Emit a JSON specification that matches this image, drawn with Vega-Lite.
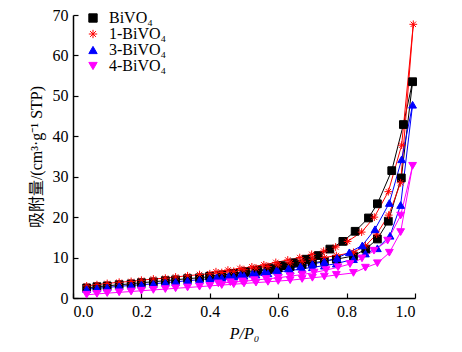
{
 "$schema": "https://vega.github.io/schema/vega-lite/v6.json",
 "width": 342,
 "height": 283,
 "autosize": {"type": "none"},
 "padding": {"left": 73, "top": 15, "right": 47, "bottom": 54},
 "background": "white",
 "config": {
  "view": {"stroke": null},
  "font": "'Liberation Serif', 'Times New Roman', serif",
  "axis": {
   "domainColor": "black", "domainWidth": 1.5, "tickColor": "black", "tickSize": -5, "tickWidth": 1.2,
   "labelFont": "'Liberation Serif', 'Times New Roman', serif", "labelFontSize": 16, "labelColor": "black", "labelPadding": 10,
   "titleFont": "'Liberation Serif', 'Noto Sans CJK SC', serif", "titleFontSize": 16, "titleColor": "black", "titleFontWeight": "normal",
   "grid": false
  },
  "legend": {"labelFont": "'Liberation Serif', 'Times New Roman', serif", "orient": "none", "legendX": 12, "legendY": -5, "padding": 0, "title": null, "symbolSize": 70, "labelFontSize": 16, "labelColor": "black", "labelOffset": 8, "rowPadding": 0, "symbolStrokeWidth": 1}
 },
 "data": {"values": [
  {"s":"BiVO₄","p":0.04,"v":2.5},{"s":"BiVO₄","p":0.07,"v":2.8},{"s":"BiVO₄","p":0.10,"v":3.0},{"s":"BiVO₄","p":0.135,"v":3.3},{"s":"BiVO₄","p":0.17,"v":3.5},{"s":"BiVO₄","p":0.20,"v":3.8},{"s":"BiVO₄","p":0.235,"v":4.0},{"s":"BiVO₄","p":0.27,"v":4.3},{"s":"BiVO₄","p":0.30,"v":4.5},{"s":"BiVO₄","p":0.335,"v":4.8},{"s":"BiVO₄","p":0.37,"v":5.0},{"s":"BiVO₄","p":0.40,"v":5.3},{"s":"BiVO₄","p":0.435,"v":5.6},{"s":"BiVO₄","p":0.47,"v":5.9},{"s":"BiVO₄","p":0.50,"v":6.2},{"s":"BiVO₄","p":0.535,"v":6.6},{"s":"BiVO₄","p":0.57,"v":7.0},{"s":"BiVO₄","p":0.60,"v":7.4},{"s":"BiVO₄","p":0.635,"v":7.8},{"s":"BiVO₄","p":0.67,"v":8.3},{"s":"BiVO₄","p":0.70,"v":8.7},{"s":"BiVO₄","p":0.735,"v":9.1},{"s":"BiVO₄","p":0.77,"v":9.6},{"s":"BiVO₄","p":0.82,"v":10.4},{"s":"BiVO₄","p":0.856,"v":12.1},{"s":"BiVO₄","p":0.89,"v":14.6},{"s":"BiVO₄","p":0.922,"v":19.0},{"s":"BiVO₄","p":0.96,"v":29.7},{"s":"BiVO₄","p":0.993,"v":53.5},
  {"s":"BiVO₄","p":0.966,"v":42.9},{"s":"BiVO₄","p":0.932,"v":31.5},{"s":"BiVO₄","p":0.89,"v":23.3},{"s":"BiVO₄","p":0.864,"v":19.8},{"s":"BiVO₄","p":0.825,"v":16.5},{"s":"BiVO₄","p":0.789,"v":14.0},{"s":"BiVO₄","p":0.751,"v":12.1},{"s":"BiVO₄","p":0.717,"v":10.5},{"s":"BiVO₄","p":0.682,"v":9.6},{"s":"BiVO₄","p":0.646,"v":8.7},{"s":"BiVO₄","p":0.61,"v":8.0},{"s":"BiVO₄","p":0.575,"v":7.4},{"s":"BiVO₄","p":0.54,"v":6.9},{"s":"BiVO₄","p":0.505,"v":6.5},{"s":"BiVO₄","p":0.47,"v":6.1},{"s":"BiVO₄","p":0.435,"v":5.7},{"s":"BiVO₄","p":0.40,"v":5.4},
  {"s":"1-BiVO₄","p":0.04,"v":3.0},{"s":"1-BiVO₄","p":0.07,"v":3.3},{"s":"1-BiVO₄","p":0.10,"v":3.6},{"s":"1-BiVO₄","p":0.135,"v":3.9},{"s":"1-BiVO₄","p":0.17,"v":4.1},{"s":"1-BiVO₄","p":0.20,"v":4.4},{"s":"1-BiVO₄","p":0.235,"v":4.7},{"s":"1-BiVO₄","p":0.27,"v":4.9},{"s":"1-BiVO₄","p":0.30,"v":5.2},{"s":"1-BiVO₄","p":0.335,"v":5.5},{"s":"1-BiVO₄","p":0.37,"v":5.8},{"s":"1-BiVO₄","p":0.40,"v":6.0},{"s":"1-BiVO₄","p":0.435,"v":6.3},{"s":"1-BiVO₄","p":0.47,"v":6.6},{"s":"1-BiVO₄","p":0.50,"v":7.0},{"s":"1-BiVO₄","p":0.535,"v":7.4},{"s":"1-BiVO₄","p":0.57,"v":7.8},{"s":"1-BiVO₄","p":0.60,"v":8.2},{"s":"1-BiVO₄","p":0.635,"v":8.7},{"s":"1-BiVO₄","p":0.67,"v":9.1},{"s":"1-BiVO₄","p":0.70,"v":9.6},{"s":"1-BiVO₄","p":0.735,"v":10.0},{"s":"1-BiVO₄","p":0.77,"v":10.5},{"s":"1-BiVO₄","p":0.82,"v":11.3},{"s":"1-BiVO₄","p":0.855,"v":12.9},{"s":"1-BiVO₄","p":0.888,"v":15.8},{"s":"1-BiVO₄","p":0.923,"v":20.5},{"s":"1-BiVO₄","p":0.958,"v":28.5},{"s":"1-BiVO₄","p":0.995,"v":67.7},
  {"s":"1-BiVO₄","p":0.961,"v":37.8},{"s":"1-BiVO₄","p":0.922,"v":26.3},{"s":"1-BiVO₄","p":0.881,"v":20.0},{"s":"1-BiVO₄","p":0.844,"v":16.3},{"s":"1-BiVO₄","p":0.803,"v":14.0},{"s":"1-BiVO₄","p":0.768,"v":12.6},{"s":"1-BiVO₄","p":0.733,"v":11.6},{"s":"1-BiVO₄","p":0.698,"v":10.8},{"s":"1-BiVO₄","p":0.663,"v":10.0},{"s":"1-BiVO₄","p":0.628,"v":9.4},{"s":"1-BiVO₄","p":0.593,"v":8.8},{"s":"1-BiVO₄","p":0.558,"v":8.2},{"s":"1-BiVO₄","p":0.523,"v":7.7},{"s":"1-BiVO₄","p":0.488,"v":7.3},{"s":"1-BiVO₄","p":0.453,"v":6.9},{"s":"1-BiVO₄","p":0.418,"v":6.5},
  {"s":"3-BiVO₄","p":0.04,"v":2.2},{"s":"3-BiVO₄","p":0.07,"v":2.4},{"s":"3-BiVO₄","p":0.10,"v":2.6},{"s":"3-BiVO₄","p":0.135,"v":2.9},{"s":"3-BiVO₄","p":0.17,"v":3.1},{"s":"3-BiVO₄","p":0.20,"v":3.3},{"s":"3-BiVO₄","p":0.235,"v":3.5},{"s":"3-BiVO₄","p":0.27,"v":3.8},{"s":"3-BiVO₄","p":0.30,"v":4.0},{"s":"3-BiVO₄","p":0.335,"v":4.3},{"s":"3-BiVO₄","p":0.37,"v":4.5},{"s":"3-BiVO₄","p":0.40,"v":4.8},{"s":"3-BiVO₄","p":0.435,"v":5.0},{"s":"3-BiVO₄","p":0.47,"v":5.3},{"s":"3-BiVO₄","p":0.50,"v":5.5},{"s":"3-BiVO₄","p":0.535,"v":5.8},{"s":"3-BiVO₄","p":0.57,"v":6.1},{"s":"3-BiVO₄","p":0.60,"v":6.5},{"s":"3-BiVO₄","p":0.635,"v":6.8},{"s":"3-BiVO₄","p":0.67,"v":7.2},{"s":"3-BiVO₄","p":0.70,"v":7.6},{"s":"3-BiVO₄","p":0.735,"v":8.0},{"s":"3-BiVO₄","p":0.77,"v":8.5},{"s":"3-BiVO₄","p":0.82,"v":9.6},{"s":"3-BiVO₄","p":0.855,"v":11.0},{"s":"3-BiVO₄","p":0.89,"v":12.3},{"s":"3-BiVO₄","p":0.927,"v":15.4},{"s":"3-BiVO₄","p":0.958,"v":23.0},{"s":"3-BiVO₄","p":0.993,"v":47.8},
  {"s":"3-BiVO₄","p":0.961,"v":34.3},{"s":"3-BiVO₄","p":0.925,"v":23.5},{"s":"3-BiVO₄","p":0.883,"v":17.0},{"s":"3-BiVO₄","p":0.846,"v":13.0},{"s":"3-BiVO₄","p":0.808,"v":11.3},{"s":"3-BiVO₄","p":0.772,"v":9.9},{"s":"3-BiVO₄","p":0.735,"v":9.0},{"s":"3-BiVO₄","p":0.70,"v":8.4},{"s":"3-BiVO₄","p":0.665,"v":7.8},{"s":"3-BiVO₄","p":0.63,"v":7.3},{"s":"3-BiVO₄","p":0.595,"v":6.8},{"s":"3-BiVO₄","p":0.56,"v":6.4},{"s":"3-BiVO₄","p":0.525,"v":6.0},{"s":"3-BiVO₄","p":0.49,"v":5.7},{"s":"3-BiVO₄","p":0.455,"v":5.4},{"s":"3-BiVO₄","p":0.42,"v":5.1},
  {"s":"4-BiVO₄","p":0.04,"v":0.8},{"s":"4-BiVO₄","p":0.07,"v":1.0},{"s":"4-BiVO₄","p":0.10,"v":1.2},{"s":"4-BiVO₄","p":0.135,"v":1.4},{"s":"4-BiVO₄","p":0.17,"v":1.6},{"s":"4-BiVO₄","p":0.20,"v":1.8},{"s":"4-BiVO₄","p":0.235,"v":2.0},{"s":"4-BiVO₄","p":0.27,"v":2.2},{"s":"4-BiVO₄","p":0.30,"v":2.4},{"s":"4-BiVO₄","p":0.335,"v":2.6},{"s":"4-BiVO₄","p":0.37,"v":2.8},{"s":"4-BiVO₄","p":0.40,"v":3.0},{"s":"4-BiVO₄","p":0.435,"v":3.2},{"s":"4-BiVO₄","p":0.47,"v":3.4},{"s":"4-BiVO₄","p":0.50,"v":3.6},{"s":"4-BiVO₄","p":0.535,"v":3.8},{"s":"4-BiVO₄","p":0.57,"v":4.0},{"s":"4-BiVO₄","p":0.60,"v":4.2},{"s":"4-BiVO₄","p":0.635,"v":4.4},{"s":"4-BiVO₄","p":0.67,"v":4.7},{"s":"4-BiVO₄","p":0.70,"v":5.0},{"s":"4-BiVO₄","p":0.735,"v":5.3},{"s":"4-BiVO₄","p":0.77,"v":5.7},{"s":"4-BiVO₄","p":0.82,"v":6.2},{"s":"4-BiVO₄","p":0.855,"v":7.5},{"s":"4-BiVO₄","p":0.89,"v":8.6},{"s":"4-BiVO₄","p":0.925,"v":11.2},{"s":"4-BiVO₄","p":0.958,"v":16.3},{"s":"4-BiVO₄","p":0.993,"v":32.7},
  {"s":"4-BiVO₄","p":0.958,"v":20.4},{"s":"4-BiVO₄","p":0.92,"v":14.2},{"s":"4-BiVO₄","p":0.88,"v":11.7},{"s":"4-BiVO₄","p":0.845,"v":9.8},{"s":"4-BiVO₄","p":0.81,"v":8.4},{"s":"4-BiVO₄","p":0.775,"v":7.6},{"s":"4-BiVO₄","p":0.74,"v":6.9},{"s":"4-BiVO₄","p":0.705,"v":6.3},{"s":"4-BiVO₄","p":0.67,"v":5.8},{"s":"4-BiVO₄","p":0.635,"v":5.4},{"s":"4-BiVO₄","p":0.60,"v":5.0},{"s":"4-BiVO₄","p":0.565,"v":4.7},{"s":"4-BiVO₄","p":0.53,"v":4.4},{"s":"4-BiVO₄","p":0.495,"v":4.1},{"s":"4-BiVO₄","p":0.46,"v":3.9},{"s":"4-BiVO₄","p":0.425,"v":3.6}
 ]},
 "encoding": {
  "x": {"field": "p", "type": "quantitative", "scale": {"domain": [0, 1], "nice": false},
        "axis": {"title": "P/P₀", "titleFontStyle": "italic", "values": [0, 0.2, 0.4, 0.6, 0.8, 1], "format": ".1f", "titlePadding": 6}},
  "y": {"field": "v", "type": "quantitative", "scale": {"domain": [0, 70], "nice": false},
        "axis": {"title": "吸附量/(cm³·g⁻¹ STP)", "values": [0, 10, 20, 30, 40, 50, 60, 70], "titlePadding": 8}}
 },
 "layer": [
  {"mark": {"type": "line", "strokeWidth": 1},
   "encoding": {
    "color": {"field": "s", "type": "nominal", "scale": {"domain": ["BiVO₄", "1-BiVO₄", "3-BiVO₄", "4-BiVO₄"], "range": ["#000000", "#ff0000", "#0000ff", "#ff00ff"]}},
    "detail": {"field": "s"},
    "order": {"value": null}
   }},
  {"mark": {"type": "point", "filled": true, "size": 60, "strokeWidth": 1, "opacity": 1},
   "encoding": {
    "color": {"field": "s", "type": "nominal", "scale": {"domain": ["BiVO₄", "1-BiVO₄", "3-BiVO₄", "4-BiVO₄"], "range": ["#000000", "#ff0000", "#0000ff", "#ff00ff"]}},
    "stroke": {"field": "s", "type": "nominal", "scale": {"domain": ["BiVO₄", "1-BiVO₄", "3-BiVO₄", "4-BiVO₄"], "range": ["#000000", "#ff0000", "#0000ff", "#ff00ff"]}},
    "shape": {"field": "s", "type": "nominal", "scale": {"domain": ["BiVO₄", "1-BiVO₄", "3-BiVO₄", "4-BiVO₄"], "range": ["square", "M-1,0H1M0,-1V1M-0.7,-0.7L0.7,0.7M-0.7,0.7L0.7,-0.7", "triangle-up", "triangle-down"]}}
   }}
 ]
}
